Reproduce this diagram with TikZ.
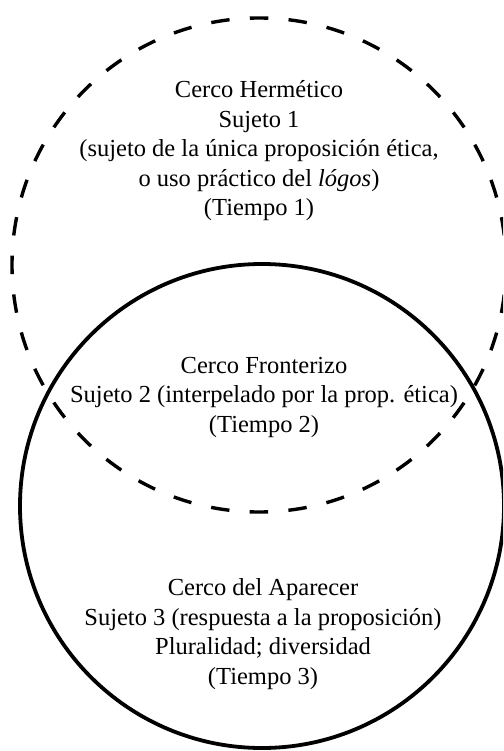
\documentclass[tikz,border=0pt]{standalone}
\usepackage{fontspec}
\setmainfont{Liberation Serif}
\begin{document}
\begin{tikzpicture}[x=1pt,y=1pt,
  dashring/.style={line width=3.4pt, dash pattern=on 18.5pt off 20.3pt, dash phase=9.25pt},
  solidring/.style={line width=3.8pt},
  label/.style={align=center, font=\fontsize{24.5}{29.5}\selectfont, inner sep=0pt}]
\useasboundingbox (0,0) rectangle (503,-751);
\begin{scope}
\clip (0,0) rectangle (503,-751);
\draw[dashring] (259,-265) circle[radius=247];
\draw[solidring] (262,-506) circle[radius=242];
\end{scope}
\node[label] (herm) at (259,-151) {Cerco Hermético\\Sujeto 1\\(sujeto de la única proposición ética,\\o uso práctico del \textit{lógos})\\(Tiempo 1)};
\node[label] (front) at (264,-397) {Cerco Fronterizo\\Sujeto 2 (interpelado por la prop. ética)\\(Tiempo 2)};
\node[label] (apar) at (263,-634) {Cerco del Aparecer\\Sujeto 3 (respuesta a la proposición)\\Pluralidad; diversidad\\(Tiempo 3)};
\end{tikzpicture}
\end{document}
